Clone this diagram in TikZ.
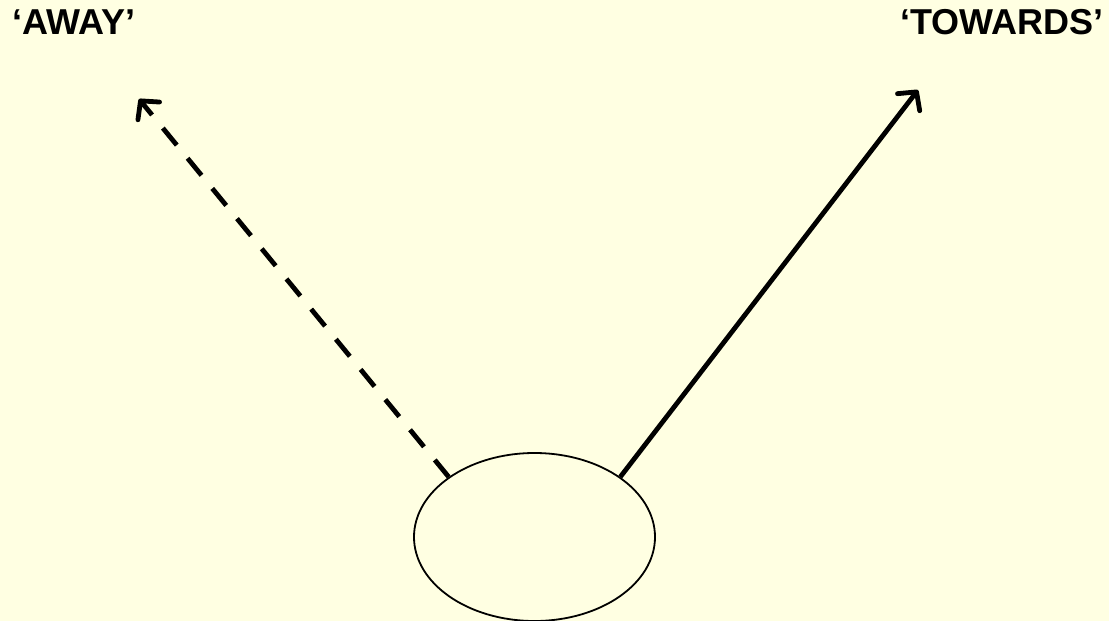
\documentclass[tikz,border=0pt]{standalone}
\usetikzlibrary{arrows.meta,shapes.geometric}
\usepackage{fontspec}
\setmainfont{Liberation Sans}
\definecolor{paper}{RGB}{255,255,226}

\begin{document}
\begin{tikzpicture}[x=0.5pt,y=-0.5pt,line width=2.4pt,
  >={Straight Barb[length=6.5pt,width=14pt,round]},
  label text/.style={font=\bfseries\fontsize{18}{21}\selectfont,inner sep=0pt}]
% 背景
\fill[paper] (0,0) rectangle (1109,621);
\useasboundingbox (0,0) rectangle (1109,621);
% 标签
\node[label text,anchor=north west] (away) at (10,7) {‘AWAY’};
\node[label text,anchor=north east] (towards) at (1106,7) {‘TOWARDS’};
% 椭圆
\node[ellipse,draw,line width=0.9pt,fill=paper,minimum width=120.5pt,minimum height=84pt,inner sep=0pt]
  (body) at (534.5,537) {};
% 箭头端点
\coordinate (awaytip) at (139,99);
\coordinate (towardstip) at (918,90);
% 虚线 away，实线 towards
\draw[->,dash pattern=on 11pt off 8.5pt] (body.145) -- (awaytip);
\draw[->] (body.35) -- (towardstip);
\end{tikzpicture}
\end{document}
